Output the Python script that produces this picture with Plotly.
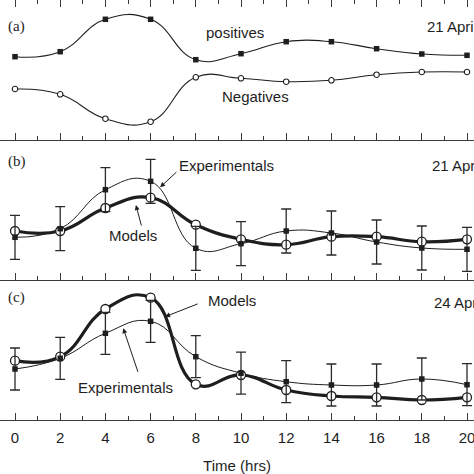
import plotly.graph_objects as go

hours = [0, 2, 4, 6, 8, 10, 12, 14, 16, 18, 20]

# Panel (a) 21 April
a_positives = [83.3, 88.3, 120.7, 120.7, 80.3, 86.3, 98.3, 98.3, 91.3, 86.0, 84.7]
a_negatives = [51.0, 45.7, 21.3, 18.3, 62.7, 61.7, 58.3, 59.7, 65.3, 68.0, 68.0]

# Panel (b) 21 April
b_experimentals = [42.7, 51.3, 90.3, 98.7, 31.7, 36.3, 49.0, 47.0, 38.0, 32.0, 30.7]
b_models = [49.0, 49.0, 72.0, 82.3, 55.3, 40.7, 35.3, 43.3, 43.3, 38.3, 40.7]
b_error = 22

# Panel (c) 24 April
c_experimentals = [51.0, 61.7, 86.7, 98.7, 63.3, 46.8, 38.3, 35.0, 35.0, 41.0, 35.3]
c_models = [59.3, 63.3, 111.0, 122.3, 35.7, 45.0, 30.0, 24.0, 22.7, 20.0, 22.7]
c_error = 21

panel_labels = ["(a)", "(b)", "(c)"]
dates = ["21 April", "21 April", "24 April"]

INK = "#1e1e1e"
AX = "#3a3a3a"
SMOOTH = 1.3
FS = 15
W, H, BOT = 474, 474, 54
PH = H - BOT  # plot height in px

fig = go.Figure()

# ---- Panel (a) ----
fig.add_trace(go.Scatter(x=hours, y=a_positives, mode="lines+markers",
                         line=dict(color=INK, width=1.1, shape="spline", smoothing=SMOOTH),
                         marker=dict(symbol="square", size=5.5, color=INK),
                         xaxis="x", yaxis="y3", showlegend=False))
fig.add_trace(go.Scatter(x=hours, y=a_negatives, mode="lines+markers",
                         line=dict(color=INK, width=1.1, shape="spline", smoothing=SMOOTH),
                         marker=dict(symbol="circle", size=5.5, color="white",
                                     line=dict(width=1.1, color=INK)),
                         xaxis="x", yaxis="y3", showlegend=False))

# ---- Panels (b), (c) ----
for exp, mod, err, ya, xa in [(b_experimentals, b_models, b_error, "y2", "x2"),
                              (c_experimentals, c_models, c_error, "y", "x3")]:
    fig.add_trace(go.Scatter(x=hours, y=exp, mode="lines",
                             line=dict(color=INK, width=1.0, shape="spline", smoothing=SMOOTH),
                             xaxis=xa, yaxis=ya, showlegend=False))
    fig.add_trace(go.Scatter(x=hours, y=mod, mode="lines+markers",
                             line=dict(color=INK, width=3.2, shape="spline", smoothing=SMOOTH),
                             marker=dict(symbol="circle", size=9, color="white",
                                         line=dict(color=INK, width=1.3)),
                             xaxis=xa, yaxis=ya, showlegend=False))
    fig.add_trace(go.Scatter(x=hours, y=exp, mode="markers",
                             marker=dict(symbol="square", size=5.5, color=INK),
                             error_y=dict(type="constant", value=err, color="#2a2a2a",
                                          thickness=1.3, width=5),
                             xaxis=xa, yaxis=ya, showlegend=False))

xr = [-15 / 22.6, (W - 15) / 22.6]
common_x = dict(range=xr, tickmode="linear", tick0=0, dtick=2, ticks="inside",
                ticklen=7, tickwidth=1.2, tickcolor=AX, showline=True, linecolor=AX,
                linewidth=1.2, showgrid=False, zeroline=False, automargin=False,
                minor=dict(ticks="inside", ticklen=3.5, dtick=1, tickwidth=1.1, tickcolor=AX, tick0=0))

d_c = [0, 140 / PH]
d_b = [140 / PH, 280 / PH]
d_a = [280 / PH, 1]

fig.update_layout(
    width=W, height=H,
    margin=dict(l=0, r=0, t=0, b=BOT, autoexpand=False),
    paper_bgcolor="white", plot_bgcolor="white",
    font=dict(family="Liberation Sans, Arial, sans-serif", size=FS, color=INK),
    xaxis3=dict(**common_x, anchor="y", showticklabels=True,
                tickfont=dict(size=FS, color=INK), ticklabeloverflow="allow",
                ticklabelstandoff=4,
                title=dict(text="Time (hrs)", font=dict(size=FS, color=INK), standoff=15)),
    xaxis2=dict(**common_x, anchor="y2", matches="x3", showticklabels=False),
    xaxis=dict(**common_x, anchor="y3", matches="x3", showticklabels=False, mirror="ticks"),
    yaxis=dict(domain=d_c, range=[0, 140], visible=False, automargin=False),
    yaxis2=dict(domain=d_b, range=[0, 140], visible=False, automargin=False),
    yaxis3=dict(domain=d_a, range=[0, 140], visible=False, automargin=False),
)

ann = []
label_pos = [(6, 27), (6, 162), (6, 298)]
date_pos = [(425, 27), (430, 165), (432, 302)]
for lab, (px, py) in zip(panel_labels, label_pos):
    ann.append(dict(text=lab, xref="paper", yref="paper", x=px / W, y=(PH - py) / PH,
                    xanchor="left", yanchor="middle", showarrow=False,
                    font=dict(family="Liberation Serif, Times New Roman, serif", size=15, color=INK)))
for d, (px, py) in zip(dates, date_pos):
    ann.append(dict(text=d, xref="paper", yref="paper", x=px / W, y=(PH - py) / PH,
                    xanchor="left", yanchor="middle", showarrow=False,
                    font=dict(size=FS, color=INK)))

ann.append(dict(text="positives", x=9.73, y=108, xref="x", yref="y3", showarrow=False))
ann.append(dict(text="Negatives", x=10.62, y=44, xref="x", yref="y3", showarrow=False))

ann.append(dict(text="Experimentals", x=9.38, y=115, xref="x2", yref="y2", showarrow=False))
ann.append(dict(text="", x=6.42, y=92.7, ax=7.21, ay=109.3, xref="x2", yref="y2",
                axref="x2", ayref="y2", showarrow=True, arrowhead=2, arrowsize=1,
                arrowwidth=1, arrowcolor=INK))
ann.append(dict(text="Models", x=5.22, y=45, xref="x2", yref="y2", showarrow=False))
ann.append(dict(text="", x=5.35, y=75, ax=5.61, ay=53, xref="x2", yref="y2",
                axref="x2", ayref="y2", showarrow=True, arrowhead=2, arrowsize=1,
                arrowwidth=1, arrowcolor=INK))

ann.append(dict(text="Models", x=9.59, y=119.3, xref="x3", yref="y", showarrow=False))
ann.append(dict(text="", x=6.64, y=103.3, ax=8.15, ay=116.7, xref="x3", yref="y",
                axref="x3", ayref="y", showarrow=True, arrowhead=2, arrowsize=1,
                arrowwidth=1, arrowcolor=INK))
ann.append(dict(text="Experimentals", x=4.91, y=32.7, xref="x3", yref="y", showarrow=False))
ann.append(dict(text="", x=4.79, y=91.7, ax=5.46, ay=46.7, xref="x3", yref="y",
                axref="x3", ayref="y", showarrow=True, arrowhead=2, arrowsize=1,
                arrowwidth=1, arrowcolor=INK))

fig.update_layout(annotations=ann)
fig.write_html("out.html", config={"displayModeBar": False},
               post_script="document.body.style.margin='0';")
